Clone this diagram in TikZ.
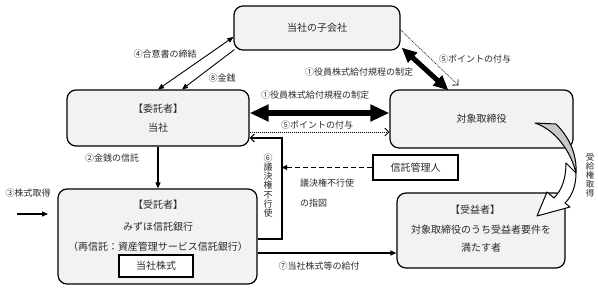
\documentclass[tikz,border=0pt]{standalone}
\usepackage{fontspec}
\setmainfont{Noto Sans CJK JP}
\usetikzlibrary{arrows.meta,calc}
\definecolor{boxfill}{HTML}{F2F2F2}
\definecolor{txt}{HTML}{2A2A2A}
\definecolor{crescent}{HTML}{C8C8C8}
\tikzset{
  rbox/.style={draw=black, line width=1.2pt, fill=boxfill, rounded corners=9pt, inner sep=0pt},
  sbox/.style={draw=black, line width=1.2pt, fill=white, inner sep=0pt},
  lbl/.style={inner sep=0pt, text=txt, font=\fontsize{9}{10}\selectfont},
  ttl/.style={inner sep=0pt, text=txt, font=\fontsize{10}{11}\selectfont},
  thin/.style={line width=0.9pt, draw=black},
  solidtip/.style={-{Triangle[length=6pt,width=5pt]}},
  bigline/.style={line width=6pt, {Triangle[length=19pt,width=16pt]}-{Triangle[length=19pt,width=16pt]}},
  dotline/.style={line width=0.8pt, dash pattern=on 1pt off 1pt, -{Straight Barb[length=4pt,width=8pt,line width=0.9pt]}},
}
\begin{document}
\begin{tikzpicture}[x=1pt,y=-1pt]
\useasboundingbox (0,0) rectangle (598,290);
% boxes
\node[rbox, minimum width=166pt, minimum height=44pt] (sub) at (317,28) {};
\node[rbox, minimum width=182pt, minimum height=56pt] (itaku) at (158,118) {};
\node[rbox, minimum width=183pt, minimum height=58pt] (taisho) at (481.5,119) {};
\node[rbox, minimum width=199pt, minimum height=95pt] (jutaku) at (157.5,236.5) {};
\node[sbox, line width=1.5pt, minimum width=74pt, minimum height=22pt] (kabu) at (156,266) {};
\node[sbox, minimum width=85pt, minimum height=25pt] (kanri) at (415.5,167.5) {};
\node[rbox, minimum width=168pt, minimum height=75pt] (jueki) at (481,230.5) {};
% box texts
\node[ttl] (tsub) at (sub) {当社の子会社};
\node[ttl] (titaku1) at (158,109) {【委託者】};
\node[ttl] (titaku2) at (158,128) {当社};
\node[ttl] (ttaisho) at (taisho) {対象取締役};
\node[ttl] (tjutaku1) at (158,205) {【受託者】};
\node[ttl] (tjutaku2) at (158,227) {みずほ信託銀行};
\node[ttl] (tjutaku3) at (158,247) {（再信託：資産管理サービス信託銀行）};
\node[ttl] (tkabu) at (kabu) {当社株式};
\node[ttl] (tkanri) at (kanri) {信託管理人};
\node[ttl] (tjueki1) at (475,210) {【受益者】};
\node[ttl] (tjueki2) at (481,230) {対象取締役のうち受益者要件を};
\node[ttl] (tjueki3) at (481,248) {満たす者};
% curved arrow 受給権取得
\draw[line width=1pt, fill=white, line join=round] (576,173) .. controls (576,186) and (572,196) .. (565,203)
  -- (570,207) -- (537,216) -- (547,192) -- (554,198)
  .. controls (562,190) and (566,178) .. (566,163) -- cycle;
\draw[line width=1pt, fill=crescent, line join=round] (535,123) -- (556,124)
  .. controls (570,138) and (577,155) .. (576,173)
  .. controls (571,152) and (556,130) .. cycle;
% connectors
\draw[thin, {Triangle[length=6pt,width=5pt]}-{Triangle[length=6pt,width=5pt]}] (itaku.north) -- ([yshift=-9pt]sub.west);
\draw[thin, solidtip] ([shift={(1pt,1pt)}]sub.south west) -- ([xshift=24pt]itaku.north);
\draw[line width=5pt, {Triangle[length=15pt,width=13pt]}-{Triangle[length=15pt,width=13pt]}] ([shift={(1pt,3pt)}]sub.south east) -- ([xshift=-33pt,yshift=-1pt]taisho.north);
\draw[line width=0.6pt, dash pattern=on 1pt off 1pt, -{Straight Barb[length=4pt,width=8pt,line width=0.8pt]}] ([yshift=-2pt]sub.east) -- ([xshift=-23pt,yshift=4pt]taisho.north);
\draw[bigline] ([yshift=5pt]itaku.east) -- ([yshift=5pt]itaku.east -| taisho.west);
\draw[dotline] ([yshift=-14pt]itaku.east) -- ([yshift=-14pt]itaku.east -| taisho.west);
\coordinate (k6) at (282,138);
\draw[thin, line width=1.2pt, -{Straight Barb[length=4pt,width=8pt,line width=1pt]}] ([yshift=-2.5pt]jutaku.east) -| (k6) -- (k6 -| itaku.east);
\draw[line width=1.3pt, dash pattern=on 5pt off 3pt, -{Triangle[length=5pt,width=5pt]}] (kanri.west) -- (kanri.west -| k6);
\draw[thin, line width=1.2pt, solidtip] (itaku.south) -- (itaku.south |- jutaku.north);
\coordinate (s3) at (17,214);
\coordinate (e3) at (48,214);
\draw[thin, line width=1.2pt, solidtip] (s3) -- (e3);
\draw[thin, line width=1.2pt, solidtip] ([yshift=-16.5pt]jutaku.east) -- ([yshift=-16.5pt]jutaku.east -| jueki.west);
% labels
\node[lbl] (l4) at (165,54) {④合意書の締結};
\node[lbl] (l8) at (222,78) {⑧金銭};
\node[lbl] (l1a) at (359,72) {①役員株式給付規程の制定};
\node[lbl] (l5a) at (475,59) {⑤ポイントの付与};
\node[lbl] (l1b) at (315,95) {①役員株式給付規程の制定};
\node[lbl] (l5b) at (317,125) {⑤ポイントの付与};
\node[lbl, align=center, font=\fontsize{9}{9.3}\selectfont] (l6) at (268,185.5) {⑥\\議\\決\\権\\不\\行\\使};
\node[lbl, anchor=west] (l6b) at (300,183) {議決権不行使};
\node[lbl, anchor=west] (l6c) at (300,203) {の指図};
\node[lbl] (l2) at (112,158) {②金銭の信託};
\node[lbl] (l3) at (28,193) {③株式取得};
\node[lbl] (l7) at (319,266) {⑦当社株式等の給付};
\node[lbl, align=center, font=\fontsize{8.5}{8.9}\selectfont] (lj) at (590,175) {受\\給\\権\\取\\得};
\end{tikzpicture}
\end{document}
